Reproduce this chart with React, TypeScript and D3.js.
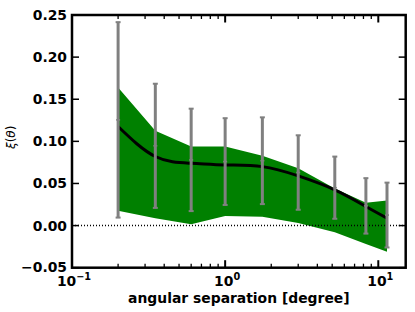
import React from "react";
import * as d3 from "d3";

const theta = [0.2, 0.35, 0.6, 1.0, 1.75, 3.0, 5.2, 8.3, 11.4];
const xiMeasured = [0.1255, 0.0947, 0.078, 0.076, 0.077, 0.063, 0.045, 0.0234, 0.0125];
const xiError = [0.116, 0.0737, 0.0608, 0.0515, 0.0515, 0.0442, 0.0369, 0.0329, 0.0385];
const bandUpper = [0.164, 0.1125, 0.094, 0.094, 0.083, 0.068, 0.044, 0.027, 0.0297];
const bandLower = [0.0175, 0.0088, 0.0017, 0.0115, 0.0105, 0.003, -0.008, -0.022, -0.031];
const xiModel = [0.1176, 0.082, 0.074, 0.072, 0.070, 0.059, 0.0424, 0.0226, 0.0088];
const yTicks = [-0.05, 0, 0.05, 0.1, 0.15, 0.2, 0.25];
const xMajorExp = [-1, 0, 1];

const W = 415;
const H = 312;
const m = { left: 72, top: 15, right: 405.7, bottom: 267.7 };
const FONT = "DejaVu Sans, sans-serif";
const FS = 13.9;

export default function App() {
  const x = d3.scaleLog().domain([0.1, 15.1]).range([m.left, m.right]);
  const y = d3.scaleLinear().domain([-0.05, 0.25]).range([m.bottom, m.top]);

  const area = d3
    .area<number>()
    .x((_, i) => x(theta[i]))
    .y0((_, i) => y(bandLower[i]))
    .y1((d) => y(d));
  const line = d3
    .line<number>()
    .x((_, i) => x(theta[i]))
    .y((d) => y(d))
    .curve(d3.curveNatural);

  const minor: number[] = [];
  for (let e = -1; e <= 1; e++) {
    for (let k = 1; k <= 9; k++) {
      const v = k * Math.pow(10, e);
      if (v >= 0.1 && v <= 15.1) minor.push(v);
    }
  }

  const fmt = (v: number) => (v < 0 ? "\u2212" : "") + Math.abs(v).toFixed(2);

  return (
    <svg
      width={W}
      height={H}
      style={{ position: "absolute", left: 0, top: 0, background: "white" }}
      fontFamily={FONT}
    >
      <rect x={0} y={0} width={W} height={H} fill="white" />
      <path d={area(bandUpper) || ""} fill="#008000" stroke="none" />
      <line
        x1={m.left}
        x2={m.right}
        y1={y(0)}
        y2={y(0)}
        stroke="#000"
        strokeWidth={1.5}
        strokeDasharray="1 2"
      />
      <path d={line(xiModel) || ""} fill="none" stroke="#000" strokeWidth={3} />
      {theta.map((t, i) => {
        const cx = x(t);
        const lo = y(xiMeasured[i] - xiError[i]);
        const hi = y(xiMeasured[i] + xiError[i]);
        const mid = y(xiMeasured[i]);
        return (
          <g key={i} stroke="#808080">
            <line x1={cx} x2={cx} y1={lo} y2={hi} strokeWidth={3} />
            <line x1={cx - 2.5} x2={cx + 2.5} y1={lo} y2={lo} strokeWidth={2} />
            <line x1={cx - 2.5} x2={cx + 2.5} y1={hi} y2={hi} strokeWidth={2} />
            <line x1={cx - 2} x2={cx + 2} y1={mid} y2={mid} strokeWidth={1.5} />
          </g>
        );
      })}
      {yTicks.map((v) => (
        <g key={v}>
          <line x1={m.left} x2={m.left + 7} y1={y(v)} y2={y(v)} stroke="#000" strokeWidth={1.5} />
          <line x1={m.right} x2={m.right - 7} y1={y(v)} y2={y(v)} stroke="#000" strokeWidth={1.5} />
          <text
            x={m.left - 5}
            y={y(v)}
            dy={v < 0 ? "0.28em" : "0.36em"}
            textAnchor="end"
            fontSize={FS}
            fontWeight="bold"
          >
            {fmt(v)}
          </text>
        </g>
      ))}
      {minor.map((v) => {
        const major = xMajorExp.some((e) => Math.abs(Math.pow(10, e) - v) < 1e-9);
        const len = major ? 7.5 : 4;
        return (
          <g key={v}>
            <line x1={x(v)} x2={x(v)} y1={m.bottom} y2={m.bottom - len} stroke="#000" strokeWidth={major ? 2 : 1.3} />
            <line x1={x(v)} x2={x(v)} y1={m.top} y2={m.top + len} stroke="#000" strokeWidth={major ? 2 : 1.3} />
          </g>
        );
      })}
      {xMajorExp.map((e) => (
        <text key={e} x={x(Math.pow(10, e)) + 2} y={285.5} textAnchor="middle" fontSize={FS} fontWeight="bold">
          10
          <tspan dy={-5.5} fontSize={FS * 0.7}>
            {e < 0 ? "\u2212" + Math.abs(e) : String(e)}
          </tspan>
        </text>
      ))}
      <rect
        x={m.left}
        y={m.top}
        width={m.right - m.left}
        height={m.bottom - m.top}
        fill="none"
        stroke="#000"
        strokeWidth={2.5}
      />
      <text x={(m.left + m.right) / 2} y={303} textAnchor="middle" fontSize={FS} fontWeight="bold">
        angular separation [degree]
      </text>
      <text
        transform={`translate(15, ${(m.top + m.bottom) / 2 - 4}) rotate(-90)`}
        textAnchor="middle"
        fontSize={12}
      >
        <tspan fontStyle="italic">ξ</tspan>
        <tspan>(</tspan>
        <tspan fontStyle="italic">θ</tspan>
        <tspan>)</tspan>
      </text>
    </svg>
  );
}
